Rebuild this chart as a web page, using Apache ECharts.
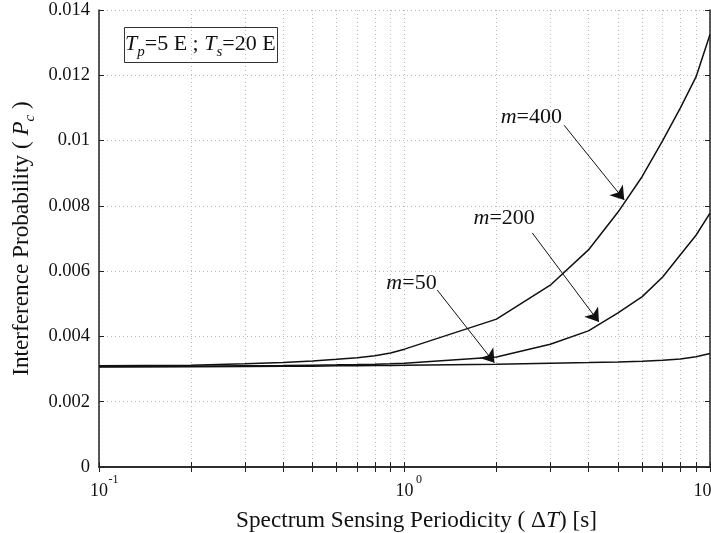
<!DOCTYPE html>
<html>
<head>
<meta charset="utf-8">
<script src="https://cdn.jsdelivr.net/npm/echarts@6/dist/echarts.min.js"></script>
<style>
  html, body { margin: 0; padding: 0; background: #fff; }
  #chart { width: 711px; height: 533px; }
</style>
</head>
<body>
<div id="chart"></div>
<script>
// Sensing periodicity ΔT [s]
const periods = [0.1, 0.2, 0.3, 0.4, 0.5, 0.6, 0.7, 0.8, 0.9, 1, 2, 3, 4, 5, 6, 7, 8, 9, 10];

// Interference probability P_c for each number of channels m
const pcM400 = [0.00310, 0.00312, 0.00316, 0.00320, 0.00325, 0.00330, 0.00335, 0.00341, 0.00349, 0.00361,
                0.00453, 0.00557, 0.00665, 0.00781, 0.00890, 0.01000, 0.01100, 0.01195, 0.01325];
const pcM200 = [0.00308, 0.00309, 0.00310, 0.00311, 0.00312, 0.00313, 0.00314, 0.00315, 0.00316, 0.00318,
                0.00337, 0.00376, 0.00417, 0.00472, 0.00522, 0.00582, 0.00650, 0.00710, 0.00778];
const pcM50  = [0.00306, 0.00307, 0.00308, 0.00309, 0.00309, 0.00310, 0.00310, 0.00311, 0.00311, 0.00312,
                0.00315, 0.00318, 0.00320, 0.00322, 0.00324, 0.00327, 0.00331, 0.00338, 0.00348];

// Axis ticks
const xTickValues = [0.1, 0.2, 0.3, 0.4, 0.5, 0.6, 0.7, 0.8, 0.9, 1, 2, 3, 4, 5, 6, 7, 8, 9, 10];
const xLabelValues = [0.1, 1, 10];
const yMin = 0, yMax = 0.014, yStep = 0.002;

// Curve callouts in data coordinates: label centre, arrow tail, arrow head
const callouts = [
  { m: '400', label: [2.60, 0.01072], from: [3.33, 0.01047], to: [5.24, 0.00818] },
  { m: '200', label: [2.12, 0.00763], from: [2.62, 0.00717], to: [4.33, 0.00444] },
  { m: '50',  label: [1.054, 0.00564], from: [1.28, 0.00542], to: [1.97, 0.00319] }
];

const FONT = "'Liberation Serif', 'Times New Roman', serif";
const INK = '#111';
const TITLE_SIZE = 23.2;

function pairs(ys) { return periods.map((x, i) => [x, ys[i]]); }

function makeSeries(ys, c) {
  return {
    type: 'line',
    data: pairs(ys),
    symbol: 'none',
    smooth: false,
    lineStyle: { color: INK, width: 1.5 },
    silent: true,
    markLine: {
      silent: true,
      symbol: ['none', 'arrow'],
      symbolSize: 13,
      label: { show: false },
      lineStyle: { color: INK, width: 1, type: 'solid' },
      emphasis: { disabled: true },
      data: [[{ coord: c.from }, { coord: c.to }]]
    },
    markPoint: {
      silent: true,
      symbol: 'circle',
      symbolSize: 0,
      label: {
        show: true,
        position: 'inside',
        formatter: '{i|m}{n|=' + c.m + '}',
        rich: {
          i: { fontFamily: FONT, fontSize: 22, fontStyle: 'italic', color: INK },
          n: { fontFamily: FONT, fontSize: 22, color: INK }
        }
      },
      data: [{ coord: c.label }]
    }
  };
}

const expOf = v => Math.round(Math.log10(v));

// Decade labels "10" with a raised exponent; the last one sits at the clipped right edge
function decadeLabel(v) {
  const e = expOf(v);
  if (v >= 10) return '{b|10}{t|' + e + '}';
  return '{p|}{b|10}{s|' + e + '}';
}

const xAxisBase = {
  type: 'log',
  logBase: 10,
  min: 0.1,
  max: 10,
  axisLine: { show: true, lineStyle: { color: '#222', width: 1.5 } },
  axisTick: { show: true, inside: true, length: 5, customValues: xTickValues, lineStyle: { color: '#222', width: 1 } }
};

const yAxisBase = {
  type: 'value',
  min: yMin,
  max: yMax,
  interval: yStep,
  axisLine: { show: true, lineStyle: { color: '#222', width: 1.5 } },
  axisTick: { show: true, inside: true, length: 5, lineStyle: { color: '#222', width: 1 } }
};

const option = {
  animation: false,
  backgroundColor: '#fff',
  title: {
    left: 124,
    top: 27,
    padding: [6, 2, 3, 1],
    borderColor: '#333',
    borderWidth: 1,
    text: '{i|T}{s|p}{n|=5 E ; }{i|T}{s|s}{n|=20 E}',
    textStyle: {
      fontWeight: 'normal',
      rich: {
        i: { fontFamily: FONT, fontSize: 22, fontStyle: 'italic', fontWeight: 'normal', color: INK, padding: [0, 0, 5, 0] },
        n: { fontFamily: FONT, fontSize: 22, fontWeight: 'normal', color: INK, padding: [0, 0, 5, 0] },
        s: { fontFamily: FONT, fontSize: 15, fontStyle: 'italic', fontWeight: 'normal', color: INK, verticalAlign: 'bottom' }
      }
    }
  },
  grid: { left: 99, right: 1, top: 10, bottom: 66, containLabel: false, outerBoundsMode: 'none' },
  xAxis: [
    Object.assign({}, xAxisBase, {
      position: 'bottom',
      name: '{n|Spectrum Sensing Periodicity ( Δ}{i|T}{n|) [s]}',
      nameLocation: 'middle',
      nameGap: 42,
      nameTextStyle: {
        padding: [0, 0, 0, 24],
        rich: {
          n: { fontFamily: FONT, fontSize: TITLE_SIZE, color: INK },
          i: { fontFamily: FONT, fontSize: TITLE_SIZE, fontStyle: 'italic', color: INK }
        }
      },
      splitLine: { show: true, lineStyle: { color: '#b8b8b8', width: 1, type: [1, 3] } },
      axisLabel: {
        show: true,
        customValues: xLabelValues,
        margin: 7,
        formatter: decadeLabel,
        rich: {
          p: { width: 11 },
          b: { fontFamily: FONT, fontSize: 18, color: INK, padding: [8, 0, 0, 0] },
          s: { fontFamily: FONT, fontSize: 12, color: INK, width: 11, verticalAlign: 'top' },
          t: { fontFamily: FONT, fontSize: 12, color: INK, width: 15, verticalAlign: 'top' }
        }
      }
    }),
    Object.assign({}, xAxisBase, {
      position: 'top',
      splitLine: { show: false },
      axisLabel: { show: false }
    })
  ],
  yAxis: [
    Object.assign({}, yAxisBase, {
      position: 'left',
      name: '{n|Interference Probability ( }{i|P}{s|c}{n| )}',
      nameLocation: 'middle',
      nameGap: 60,
      nameTextStyle: {
        rich: {
          n: { fontFamily: FONT, fontSize: TITLE_SIZE, color: INK, padding: [0, 0, 4, 0] },
          i: { fontFamily: FONT, fontSize: TITLE_SIZE, fontStyle: 'italic', color: INK, padding: [0, 0, 4, 0] },
          s: { fontFamily: FONT, fontSize: 15, fontStyle: 'italic', color: INK, verticalAlign: 'bottom' }
        }
      },
      splitLine: { show: true, lineStyle: { color: '#b8b8b8', width: 1, type: [1, 3] } },
      axisLabel: {
        show: true,
        margin: 9,
        fontFamily: FONT,
        fontSize: 18.5,
        color: INK,
        formatter: v => String(parseFloat(v.toFixed(3)))
      }
    }),
    Object.assign({}, yAxisBase, {
      position: 'right',
      splitLine: { show: false },
      axisLabel: { show: false }
    })
  ],
  series: [
    makeSeries(pcM400, callouts[0]),
    makeSeries(pcM200, callouts[1]),
    makeSeries(pcM50, callouts[2])
  ]
};

const chart = echarts.init(document.getElementById('chart'), null, { renderer: 'canvas' });
chart.setOption(option);
</script>
</body>
</html>
